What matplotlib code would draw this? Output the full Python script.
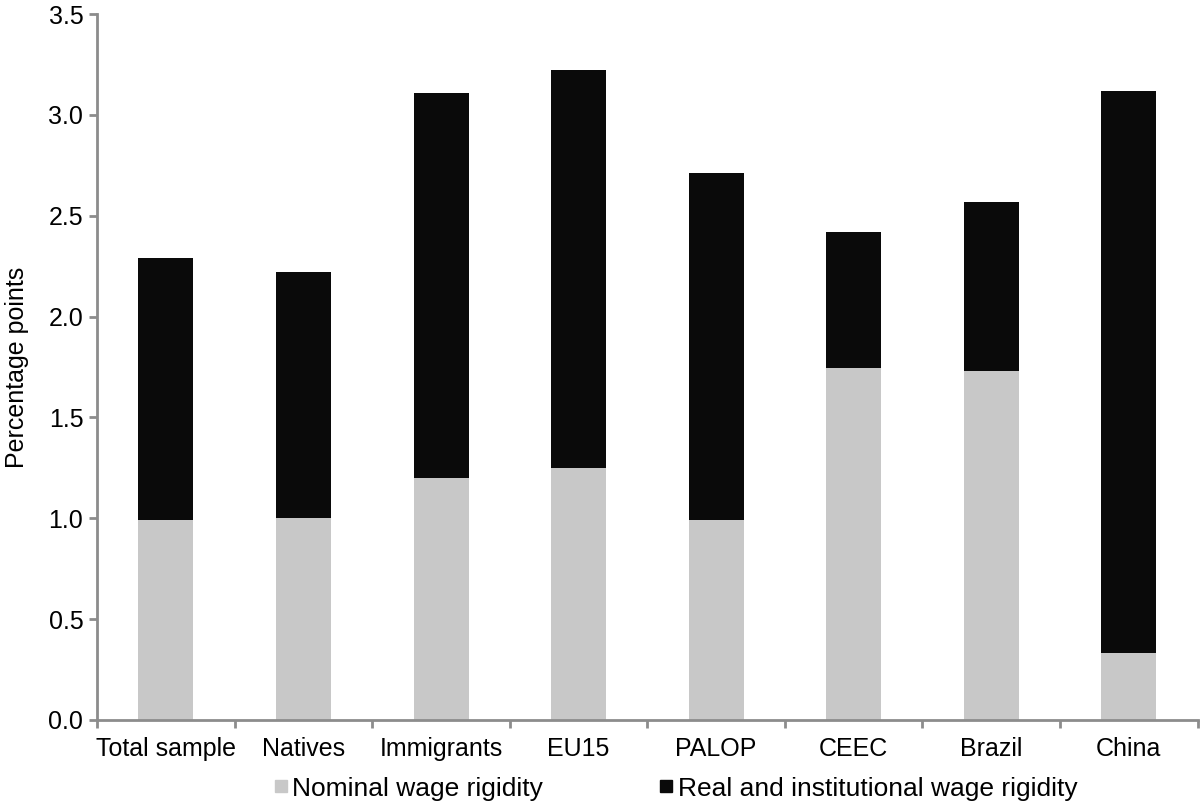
import numpy as np
import matplotlib.pyplot as plt
from matplotlib.lines import Line2D

categories = ['Total sample', 'Natives', 'Immigrants', 'EU15', 'PALOP', 'CEEC', 'Brazil', 'China']
totals = [2.29, 2.22, 3.11, 3.22, 2.71, 2.42, 2.57, 3.12]
nominal = [0.99, 1.00, 1.20, 1.25, 0.99, 1.745, 1.73, 0.33]
real_inst = [t - n for t, n in zip(totals, nominal)]

plt.rcParams['font.family'] = ['Liberation Sans', 'DejaVu Sans']

fig = plt.figure(figsize=(12, 8.05), dpi=100)
ax = fig.add_axes([0.081, 0.1056, 0.917, 0.877])

x = np.arange(len(categories))
ax.bar(x, nominal, width=0.4, color='#c8c8c8')
ax.bar(x, real_inst, width=0.4, bottom=nominal, color='#0a0a0a')

ax.set_xlim(-0.5, len(categories) - 0.5)
ax.set_ylim(0, 3.5)
ax.set_yticks(np.arange(0, 3.51, 0.5))
ax.set_yticklabels([f'{v:.1f}' for v in np.arange(0, 3.51, 0.5)], fontsize=18)
ax.set_xticks(x)
ax.set_xticklabels(categories, fontsize=18)
ax.tick_params(axis='x', length=0, pad=12)
ax.set_xticks(np.arange(-0.5, len(categories), 1), minor=True)
ax.tick_params(axis='x', which='minor', length=6, width=2, color='#8c8c8c')
ax.tick_params(axis='y', length=6, width=2, color='#8c8c8c', pad=4)

for side in ['top', 'right']:
    ax.spines[side].set_visible(False)
for side in ['left', 'bottom']:
    ax.spines[side].set_color('#8c8c8c')
    ax.spines[side].set_linewidth(2)

ax.set_ylabel('Percentage points', fontsize=18, labelpad=14)

handles = [Line2D([], [], marker='s', linestyle='', color='#c8c8c8', markersize=9),
           Line2D([], [], marker='s', linestyle='', color='#0a0a0a', markersize=9)]
fig.legend(handles, ['Nominal wage rigidity', 'Real and institutional wage rigidity'],
           loc='lower center', bbox_to_anchor=(0.562, -0.024), ncol=2, frameon=False,
           fontsize=19, handletextpad=0.1, columnspacing=4.3, handlelength=0.7)

fig.savefig('out.png')
